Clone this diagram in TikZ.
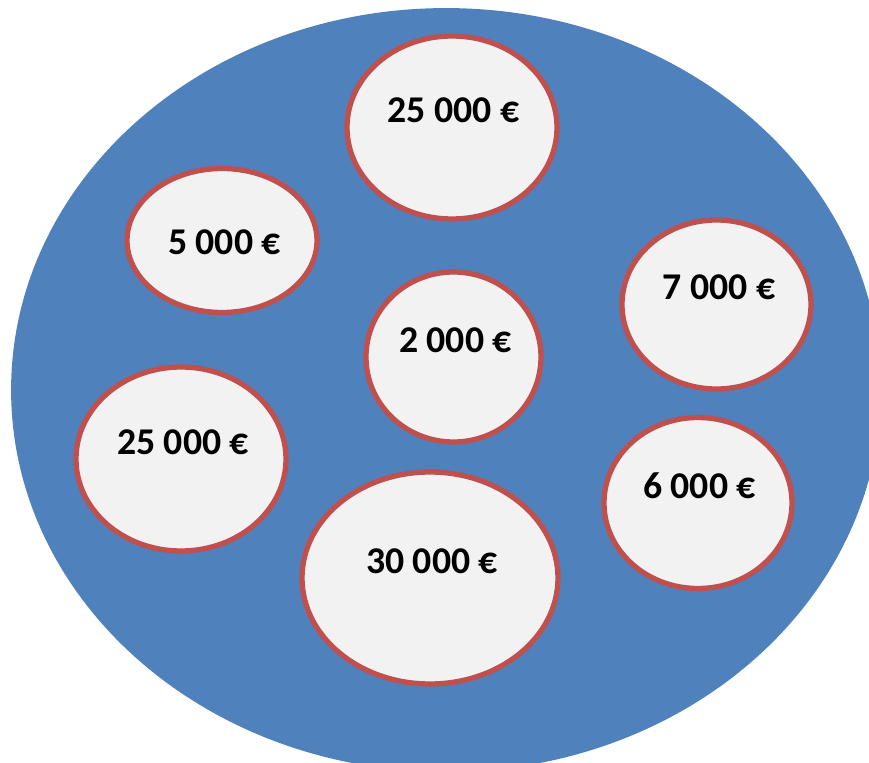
\documentclass[tikz,border=0pt]{standalone}
\usepackage{fontspec}
\setmainfont{Carlito}
\usetikzlibrary{shapes}
\definecolor{poolblue}{RGB}{79,129,189}
\definecolor{rimred}{RGB}{192,80,77}
\definecolor{bubblegray}{RGB}{242,242,242}

\begin{document}
\begin{tikzpicture}[x=0.02cm, y=-0.02cm,
    pool/.style   = {ellipse, fill=poolblue, inner sep=0pt, minimum width=17.4cm, minimum height=15.28cm},
    bubble/.style = {ellipse, draw=rimred, fill=bubblegray, line width=3pt, inner sep=0pt},
    amount/.style = {font=\fontsize{21.5}{26}\selectfont\bfseries, inner sep=0pt}]

  \useasboundingbox (0,0) rectangle (869,763);
  \clip (0,0) rectangle (869,763);
  \draw (446,390) node[pool] (P) {};

  % bubbles
  \draw (452,127.5) node[bubble, minimum width=4.2cm,  minimum height=3.66cm] (B1) {};
  \draw (222,240.5) node[bubble, minimum width=3.8cm,  minimum height=2.88cm] (B2) {};
  \draw (716.5,304.5) node[bubble, minimum width=3.78cm, minimum height=3.38cm] (B3) {};
  \draw (453.5,357) node[bubble, minimum width=3.5cm,  minimum height=3.4cm]  (B4) {};
  \draw (181,459)   node[bubble, minimum width=4.2cm,  minimum height=3.68cm] (B5) {};
  \draw (698,503)   node[bubble, minimum width=3.76cm, minimum height=3.42cm] (B6) {};
  \draw (430,578)   node[bubble, minimum width=5.12cm, minimum height=4.24cm] (B7) {};

  % amounts
  \draw (453.5,110) node[amount] (T1) {25 000 €};
  \draw (224.5,242.5) node[amount] (T2) {5 000 €};
  \draw (719,287)   node[amount] (T3) {7 000 €};
  \draw (455.5,340) node[amount] (T4) {2 000 €};
  \draw (183,442)   node[amount] (T5) {25 000 €};
  \draw (699.5,486) node[amount] (T6) {6 000 €};
  \draw (432,561)   node[amount] (T7) {30 000 €};

\end{tikzpicture}
\end{document}
